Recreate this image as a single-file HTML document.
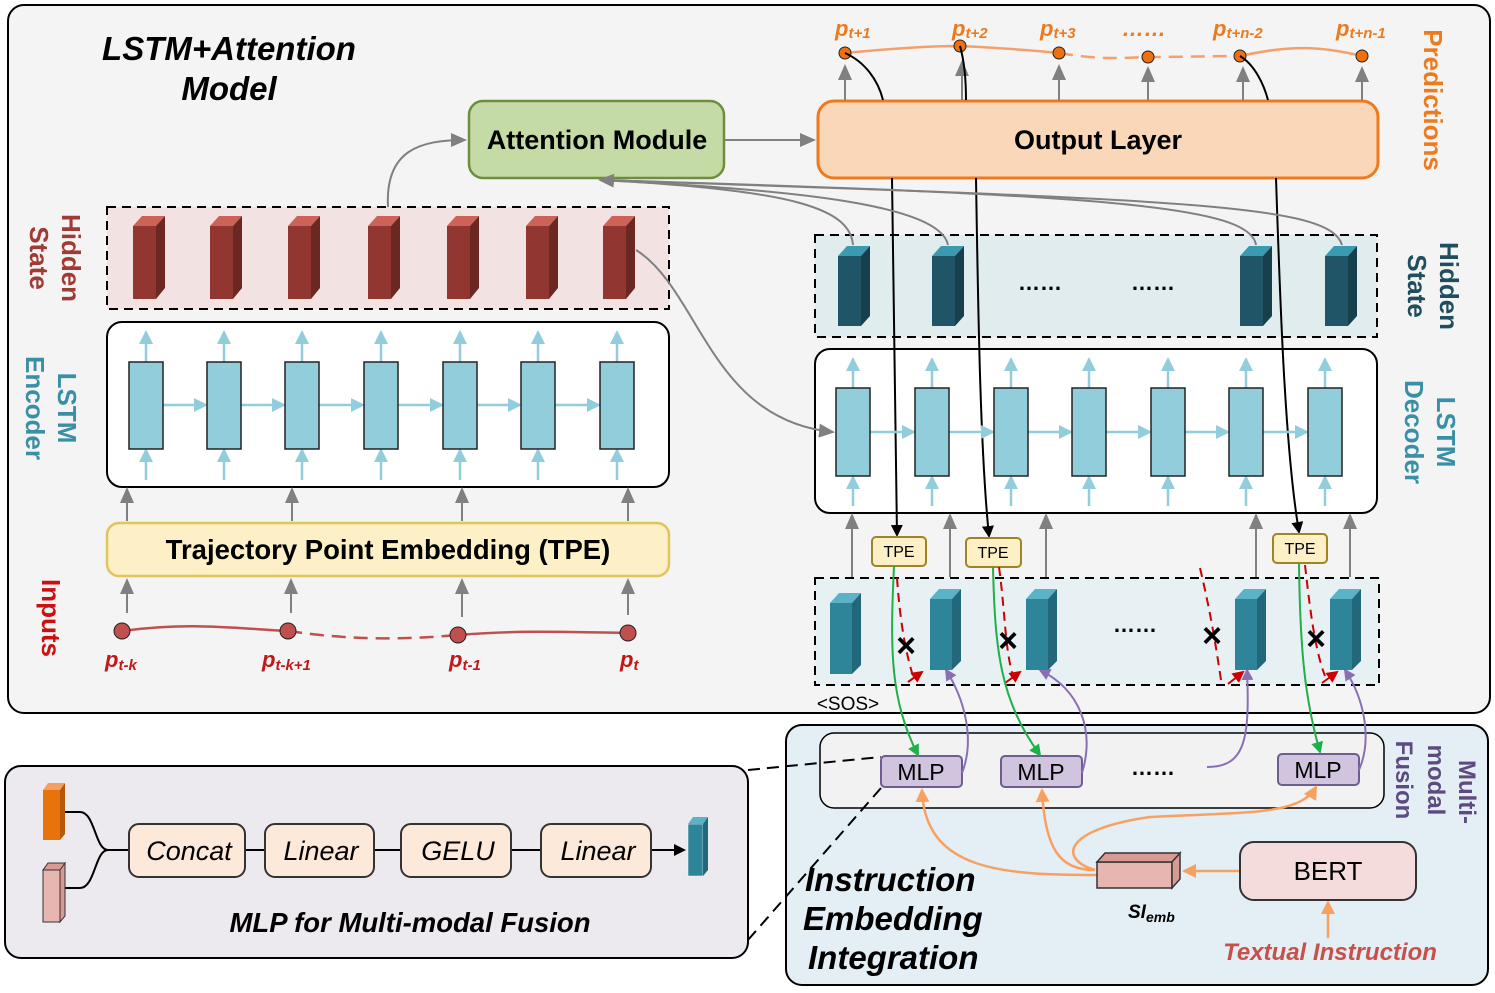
<!DOCTYPE html>
<html><head><meta charset="utf-8"><style>
html,body{margin:0;padding:0;background:#fff}
svg{display:block}
text{font-family:"Liberation Sans",Arial,sans-serif}
</style></head><body>
<svg width="1495" height="993" viewBox="0 0 1495 993" xmlns="http://www.w3.org/2000/svg">
<defs>
<marker id="agL" markerWidth="16" markerHeight="14" refX="14" refY="7" orient="auto" markerUnits="userSpaceOnUse"><path d="M0,0 L16,7 L0,14 Z" fill="#808080"/></marker>
<marker id="ab" markerWidth="14" markerHeight="14" refX="12" refY="7" orient="auto" markerUnits="userSpaceOnUse"><path d="M0,0 L14,7 L0,14 Z" fill="#92cddb"/></marker>
<marker id="ak" markerWidth="12" markerHeight="12" refX="10" refY="6" orient="auto" markerUnits="userSpaceOnUse"><path d="M0,0 L12,6 L0,12 Z" fill="#000"/></marker>
<marker id="agr" markerWidth="12" markerHeight="12" refX="10" refY="6" orient="auto" markerUnits="userSpaceOnUse"><path d="M0,0 L12,6 L0,12 Z" fill="#1fb04a"/></marker>
<marker id="ap" markerWidth="12" markerHeight="12" refX="10" refY="6" orient="auto" markerUnits="userSpaceOnUse"><path d="M0,0 L12,6 L0,12 Z" fill="#8a6fb5"/></marker>
<marker id="ar" markerWidth="12" markerHeight="12" refX="10" refY="6" orient="auto" markerUnits="userSpaceOnUse"><path d="M0,0 L12,6 L0,12 Z" fill="#cc0000"/></marker>
<marker id="ao" markerWidth="14" markerHeight="14" refX="12" refY="7" orient="auto" markerUnits="userSpaceOnUse"><path d="M0,0 L14,7 L0,14 Z" fill="#f8a060"/></marker>
</defs>

<rect x="8" y="5" width="1482" height="708" rx="16" fill="#f4f4f4" stroke="#000" stroke-width="2"/>
<rect x="5" y="766" width="743" height="192" rx="16" fill="#ece9ef" stroke="#000" stroke-width="2"/>
<rect x="786" y="725" width="702" height="260" rx="16" fill="#e3eff4" stroke="#000" stroke-width="2"/>
<rect x="820" y="733" width="564" height="75" rx="14" fill="#f2f2f2" stroke="#000" stroke-width="1.5"/>

<text x="229" y="60" font-size="33" font-weight="bold" font-style="italic" text-anchor="middle">LSTM+Attention</text>
<text x="229" y="100" font-size="33" font-weight="bold" font-style="italic" text-anchor="middle">Model</text>

<rect x="469" y="101" width="255" height="77" rx="14" fill="#c5dba6" stroke="#6b8f3e" stroke-width="2.5"/>
<text x="597" y="149" font-size="27" font-weight="bold" text-anchor="middle">Attention Module</text>
<rect x="818" y="101" width="560" height="77" rx="16" fill="#fbd7b9" stroke="#ee7a1e" stroke-width="3"/>
<text x="1098" y="149" font-size="27" font-weight="bold" text-anchor="middle">Output Layer</text>
<line x1="725" y1="140" x2="814" y2="140" stroke="#808080" stroke-width="2" marker-end="url(#agL)"/>

<rect x="107" y="207" width="562" height="102" fill="#f3e2e2" stroke="#000" stroke-width="2" stroke-dasharray="9,6"/>
<rect x="107" y="322" width="562" height="165" rx="15" fill="#fff" stroke="#000" stroke-width="2"/>
<rect x="107" y="523" width="562" height="53" rx="12" fill="#fdf0c6" stroke="#e2c45a" stroke-width="2.5"/>
<text x="388" y="559" font-size="27.5" font-weight="bold" text-anchor="middle">Trajectory Point Embedding (TPE)</text>

<rect x="815" y="235" width="562" height="102" fill="#e1ecef" stroke="#000" stroke-width="2" stroke-dasharray="9,6"/>
<text x="1040" y="290" font-size="22" font-weight="bold" text-anchor="middle">……</text>
<text x="1153" y="290" font-size="22" font-weight="bold" text-anchor="middle">……</text>
<rect x="815" y="349" width="562" height="164" rx="15" fill="#fff" stroke="#000" stroke-width="2"/>
<rect x="815" y="578" width="564" height="107" fill="#e7f0f3" stroke="#000" stroke-width="2" stroke-dasharray="9,6"/>
<text x="1135" y="632" font-size="22" font-weight="bold" text-anchor="middle">……</text>
<text x="848" y="710" font-size="19" text-anchor="middle">&lt;SOS&gt;</text>

<g font-weight="bold" font-size="26">
<text transform="translate(62,258) rotate(90)" text-anchor="middle" fill="#a03a35">Hidden</text>
<text transform="translate(30,258) rotate(90)" text-anchor="middle" fill="#a03a35">State</text>
<text transform="translate(58,408) rotate(90)" text-anchor="middle" fill="#3a8fa5">LSTM</text>
<text transform="translate(26,408) rotate(90)" text-anchor="middle" fill="#3a8fa5">Encoder</text>
<text transform="translate(42,618) rotate(90)" text-anchor="middle" fill="#cc1010">Inputs</text>
<text transform="translate(1440,286) rotate(90)" text-anchor="middle" fill="#1f4e5f">Hidden</text>
<text transform="translate(1408,286) rotate(90)" text-anchor="middle" fill="#1f4e5f">State</text>
<text transform="translate(1437,432) rotate(90)" text-anchor="middle" fill="#3a8fa5">LSTM</text>
<text transform="translate(1405,432) rotate(90)" text-anchor="middle" fill="#3a8fa5">Decoder</text>
<text transform="translate(1424,100) rotate(90)" text-anchor="middle" fill="#ee7a1e">Predictions</text>
<text transform="translate(1459,792) rotate(90)" text-anchor="middle" fill="#5e4a80" font-size="24">Multi-</text>
<text transform="translate(1428,780) rotate(90)" text-anchor="middle" fill="#5e4a80" font-size="24">modal</text>
<text transform="translate(1396,780) rotate(90)" text-anchor="middle" fill="#5e4a80" font-size="24">Fusion</text>
</g>

<path d="M122,631 C190,622 230,628 288,631" fill="none" stroke="#c0504d" stroke-width="2.5"/>
<path d="M288,631 C350,640 400,640 458,635" fill="none" stroke="#c0504d" stroke-width="2.5" stroke-dasharray="14,8"/>
<path d="M458,635 C520,630 570,632 628,633" fill="none" stroke="#c0504d" stroke-width="2.5"/>
<g fill="#c0504d" stroke="#222" stroke-width="1"><circle cx="122" cy="631" r="8"/><circle cx="288" cy="631" r="8"/><circle cx="458" cy="635" r="8"/><circle cx="628" cy="633" r="8"/></g>
<g fill="#c01818" font-weight="bold" font-style="italic" font-size="22">
<text x="105" y="667">p<tspan font-size="15" dy="3">t-k</tspan></text>
<text x="262" y="667">p<tspan font-size="15" dy="3">t-k+1</tspan></text>
<text x="449" y="667">p<tspan font-size="15" dy="3">t-1</tspan></text>
<text x="620" y="667">p<tspan font-size="15" dy="3">t</tspan></text>
</g>
<g stroke="#808080" stroke-width="2" marker-end="url(#agL)">
<line x1="127" y1="613" x2="127" y2="580"/><line x1="291" y1="613" x2="291" y2="580"/><line x1="462" y1="617" x2="462" y2="580"/><line x1="628" y1="615" x2="628" y2="580"/>
<line x1="127" y1="521" x2="127" y2="489"/><line x1="292" y1="521" x2="292" y2="489"/><line x1="462" y1="521" x2="462" y2="489"/><line x1="628" y1="521" x2="628" y2="489"/>
<line x1="852" y1="577" x2="852" y2="515"/><line x1="950" y1="577" x2="950" y2="515"/><line x1="1046" y1="577" x2="1046" y2="515"/><line x1="1256" y1="577" x2="1256" y2="515"/><line x1="1350" y1="577" x2="1350" y2="515"/>
<line x1="845" y1="100" x2="845" y2="66"/><line x1="962" y1="100" x2="962" y2="62"/><line x1="1059" y1="100" x2="1059" y2="66"/><line x1="1148" y1="100" x2="1148" y2="68"/><line x1="1243" y1="100" x2="1243" y2="68"/><line x1="1362" y1="100" x2="1362" y2="68"/>
</g>

<path d="M845,53 C900,48 930,46 960,46 C1000,48 1030,50 1059,53" fill="none" stroke="#f5a06a" stroke-width="2.5"/>
<path d="M1059,53 C1100,60 1120,58 1148,57 C1190,57 1210,56 1240,56" fill="none" stroke="#f5a06a" stroke-width="2.5" stroke-dasharray="14,8"/>
<path d="M1240,56 C1290,45 1320,46 1362,56" fill="none" stroke="#f5a06a" stroke-width="2.5"/>
<g fill="#ee7010" stroke="#222" stroke-width="1"><circle cx="845" cy="53" r="6"/><circle cx="960" cy="46" r="6"/><circle cx="1059" cy="53" r="6"/><circle cx="1148" cy="57" r="6"/><circle cx="1240" cy="56" r="6"/><circle cx="1362" cy="56" r="6"/></g>
<g fill="#ee7a1e" font-weight="bold" font-style="italic" font-size="22">
<text x="835" y="36">p<tspan font-size="15" dy="2">t+1</tspan></text>
<text x="952" y="36">p<tspan font-size="15" dy="2">t+2</tspan></text>
<text x="1040" y="36">p<tspan font-size="15" dy="2">t+3</tspan></text>
<text x="1122" y="36">……</text>
<text x="1213" y="36">p<tspan font-size="15" dy="2">t+n-2</tspan></text>
<text x="1336" y="36">p<tspan font-size="15" dy="2">t+n-1</tspan></text>
</g>
<g fill="none" stroke="#000" stroke-width="2">
<path d="M845,53 C865,62 878,80 883,100"/><path d="M960,46 C964,60 966,80 966,100"/><path d="M1240,56 C1255,65 1264,85 1268,100"/>
</g>
<g fill="none" stroke="#000" stroke-width="2" marker-end="url(#ak)">
<path d="M892,178 L897,535"/><path d="M976,178 C978,300 980,450 989,536"/><path d="M1276,178 C1280,300 1285,450 1299,532"/>
</g>

<g fill="none" stroke="#808080" stroke-width="2">
<path d="M388,207 C385,150 420,140 465,140" marker-end="url(#agL)"/>
<path d="M636,250 C700,290 710,420 833,432" marker-end="url(#agL)"/>
<path d="M853,245 C850,210 800,190 600,180" marker-end="url(#agL)"/>
<path d="M948,245 C940,205 800,190 600,180"/>
<path d="M1256,245 C1250,205 1100,195 600,180"/>
<path d="M1342,245 C1330,205 1200,200 600,180"/>
</g>

<g fill="#fdf0c6" stroke="#a08424" stroke-width="2">
<rect x="872" y="537" width="54" height="29" rx="4"/><rect x="966" y="538" width="55" height="29" rx="4"/><rect x="1273" y="534" width="54" height="29" rx="4"/>
</g>
<g font-size="16" text-anchor="middle"><text x="899" y="557">TPE</text><text x="993" y="558">TPE</text><text x="1300" y="554">TPE</text></g>

<g fill="none" stroke="#cc0000" stroke-width="2" stroke-dasharray="9,6">
<path d="M897,578 C900,620 905,650 913,676"/><path d="M999,567 C1005,610 1005,650 1013,676"/><path d="M1200,568 C1210,610 1215,640 1221,680"/><path d="M1305,565 C1310,610 1315,650 1325,676"/>
</g>
<g stroke="#cc0000" stroke-width="2" marker-end="url(#ar)">
<line x1="908" y1="682" x2="922" y2="672"/><line x1="1005" y1="683" x2="1020" y2="672"/><line x1="1228" y1="684" x2="1243" y2="672"/><line x1="1322" y1="683" x2="1337" y2="672"/>
</g>
<g font-size="34" font-weight="bold" text-anchor="middle"><text x="906" y="657">×</text><text x="1008" y="652">×</text><text x="1212" y="647">×</text><text x="1316" y="650">×</text></g>

<g fill="#d0c4de" stroke="#6e5e90" stroke-width="2">
<rect x="881" y="756" width="81" height="31" rx="4"/><rect x="1001" y="756" width="81" height="31" rx="4"/><rect x="1278" y="754" width="81" height="31" rx="4"/>
</g>
<g font-size="23" text-anchor="middle"><text x="921" y="780">MLP</text><text x="1041" y="780">MLP</text><text x="1318" y="778">MLP</text></g>
<text x="1153" y="775" font-size="22" font-weight="bold" text-anchor="middle">……</text>
<g fill="none" stroke="#1fb04a" stroke-width="2" marker-end="url(#agr)">
<path d="M894,566 C890,650 890,700 918,755"/><path d="M993,567 C995,650 1000,700 1040,755"/><path d="M1299,563 C1300,650 1305,700 1320,752"/>
</g>
<g fill="none" stroke="#8a6fb5" stroke-width="2" marker-end="url(#ap)">
<path d="M962,773 C975,740 965,700 946,670"/><path d="M1082,773 C1095,730 1080,690 1040,670"/><path d="M1207,767 C1245,767 1250,740 1247,670"/><path d="M1359,770 C1372,740 1365,700 1345,670"/>
</g>

<g fill="none" stroke="#f8a060" stroke-width="2.5" marker-end="url(#ao)">
<path d="M1097,875 C1000,875 925,870 922,790"/><path d="M1095,870 C1060,870 1045,850 1042,790"/><path d="M1095,870 C1060,860 1060,830 1150,817 C1250,812 1300,815 1316,787"/>
<line x1="1240" y1="871" x2="1184" y2="871"/><line x1="1328" y1="938" x2="1328" y2="902"/>
</g>
<rect x="1097" y="862" width="75" height="26" fill="#e8b6b0" stroke="#333" stroke-width="1.5"/>
<path d="M1097,862 L1105,853 L1180,853 L1172,862 Z M1172,862 L1180,853 L1180,879 L1172,888 Z" fill="#d99a94" stroke="#333" stroke-width="1.5"/>
<text x="1128" y="918" font-size="19" font-weight="bold" font-style="italic">SI<tspan font-size="14" dy="4">emb</tspan></text>
<rect x="1240" y="842" width="176" height="58" rx="14" fill="#f4dcdc" stroke="#333" stroke-width="2"/>
<text x="1328" y="880" font-size="26" text-anchor="middle">BERT</text>
<text x="1330" y="960" font-size="24" font-weight="bold" font-style="italic" fill="#c8504a" text-anchor="middle">Textual Instruction</text>
<g font-size="33" font-weight="bold" font-style="italic"><text x="805" y="891">Instruction</text><text x="803" y="930">Embedding</text><text x="808" y="969">Integration</text></g>

<g stroke="#000" stroke-width="2" stroke-dasharray="12,7" fill="none"><path d="M748,770 L881,757"/><path d="M748,940 L881,788"/></g>

<path d="M65,812 L80,812 C95,812 95,850 108,850 M65,888 L80,888 C95,888 95,850 108,850 L129,850" fill="none" stroke="#000" stroke-width="2"/>
<rect x="43" y="790" width="17" height="50" fill="#e8720c"/><path d="M43,790 L48,783 L65,783 L60,790 Z" fill="#f4a060"/><path d="M60,790 L65,783 L65,834 L60,840 Z" fill="#b55a0a"/>
<rect x="43" y="870" width="17" height="52" fill="#e8b6b0" stroke="#333" stroke-width="1"/><path d="M43,870 L48,863 L65,863 L60,870 Z M60,870 L65,863 L65,916 L60,922 Z" fill="#d99a94" stroke="#333" stroke-width="1"/>
<g stroke="#000" stroke-width="2"><line x1="245" y1="850" x2="265" y2="850"/><line x1="374" y1="850" x2="401" y2="850"/><line x1="511" y1="850" x2="541" y2="850"/><line x1="651" y1="850" x2="684" y2="850" marker-end="url(#ak)"/></g>
<g fill="#fde9d9" stroke="#333" stroke-width="2"><rect x="129" y="824" width="116" height="53" rx="10"/><rect x="265" y="824" width="109" height="53" rx="10"/><rect x="401" y="824" width="110" height="53" rx="10"/><rect x="541" y="824" width="110" height="53" rx="10"/></g>
<g font-size="27" font-style="italic" text-anchor="middle"><text x="189" y="860">Concat</text><text x="321" y="860">Linear</text><text x="458" y="860">GELU</text><text x="598" y="860">Linear</text></g>
<rect x="688" y="824" width="15" height="52" fill="#2e8499" stroke="#fff" stroke-width="0.5"/><path d="M688,824 L693,817 L708,817 L703,824 Z" fill="#5cb3c8"/><path d="M703,824 L708,817 L708,870 L703,876 Z" fill="#22687a"/>
<text x="410" y="932" font-size="27.5" font-weight="bold" font-style="italic" text-anchor="middle">MLP for Multi-modal Fusion</text>

<g>
<g transform="translate(133,226)"><rect width="23" height="73" fill="#913630"/><path d="M0,0 L9,-10 L32,-10 L23,0Z" fill="#cc6258"/><path d="M23,0 L32,-10 L32,62 L23,73Z" fill="#6b2722"/></g>
<g transform="translate(210,226)"><rect width="23" height="73" fill="#913630"/><path d="M0,0 L9,-10 L32,-10 L23,0Z" fill="#cc6258"/><path d="M23,0 L32,-10 L32,62 L23,73Z" fill="#6b2722"/></g>
<g transform="translate(288,226)"><rect width="23" height="73" fill="#913630"/><path d="M0,0 L9,-10 L32,-10 L23,0Z" fill="#cc6258"/><path d="M23,0 L32,-10 L32,62 L23,73Z" fill="#6b2722"/></g>
<g transform="translate(368,226)"><rect width="23" height="73" fill="#913630"/><path d="M0,0 L9,-10 L32,-10 L23,0Z" fill="#cc6258"/><path d="M23,0 L32,-10 L32,62 L23,73Z" fill="#6b2722"/></g>
<g transform="translate(447,226)"><rect width="23" height="73" fill="#913630"/><path d="M0,0 L9,-10 L32,-10 L23,0Z" fill="#cc6258"/><path d="M23,0 L32,-10 L32,62 L23,73Z" fill="#6b2722"/></g>
<g transform="translate(526,226)"><rect width="23" height="73" fill="#913630"/><path d="M0,0 L9,-10 L32,-10 L23,0Z" fill="#cc6258"/><path d="M23,0 L32,-10 L32,62 L23,73Z" fill="#6b2722"/></g>
<g transform="translate(603,226)"><rect width="23" height="73" fill="#913630"/><path d="M0,0 L9,-10 L32,-10 L23,0Z" fill="#cc6258"/><path d="M23,0 L32,-10 L32,62 L23,73Z" fill="#6b2722"/></g>
</g>
<g>
<g transform="translate(838,256)"><rect width="23" height="70" fill="#1f5566"/><path d="M0,0 L9,-10 L32,-10 L23,0Z" fill="#3a9ab0"/><path d="M23,0 L32,-10 L32,60 L23,70Z" fill="#173f4c"/></g>
<g transform="translate(932,256)"><rect width="23" height="70" fill="#1f5566"/><path d="M0,0 L9,-10 L32,-10 L23,0Z" fill="#3a9ab0"/><path d="M23,0 L32,-10 L32,60 L23,70Z" fill="#173f4c"/></g>
<g transform="translate(1240,256)"><rect width="23" height="70" fill="#1f5566"/><path d="M0,0 L9,-10 L32,-10 L23,0Z" fill="#3a9ab0"/><path d="M23,0 L32,-10 L32,60 L23,70Z" fill="#173f4c"/></g>
<g transform="translate(1325,256)"><rect width="23" height="70" fill="#1f5566"/><path d="M0,0 L9,-10 L32,-10 L23,0Z" fill="#3a9ab0"/><path d="M23,0 L32,-10 L32,60 L23,70Z" fill="#173f4c"/></g>
<g transform="translate(830,603)"><rect width="22" height="71" fill="#2e8499"/><path d="M0,0 L9,-10 L31,-10 L22,0Z" fill="#5cb3c8"/><path d="M22,0 L31,-10 L31,62 L22,71Z" fill="#22687a"/></g>
<g transform="translate(930,599)"><rect width="22" height="71" fill="#2e8499"/><path d="M0,0 L9,-10 L31,-10 L22,0Z" fill="#5cb3c8"/><path d="M22,0 L31,-10 L31,62 L22,71Z" fill="#22687a"/></g>
<g transform="translate(1026,599)"><rect width="22" height="71" fill="#2e8499"/><path d="M0,0 L9,-10 L31,-10 L22,0Z" fill="#5cb3c8"/><path d="M22,0 L31,-10 L31,62 L22,71Z" fill="#22687a"/></g>
<g transform="translate(1235,599)"><rect width="22" height="71" fill="#2e8499"/><path d="M0,0 L9,-10 L31,-10 L22,0Z" fill="#5cb3c8"/><path d="M22,0 L31,-10 L31,62 L22,71Z" fill="#22687a"/></g>
<g transform="translate(1330,599)"><rect width="22" height="71" fill="#2e8499"/><path d="M0,0 L9,-10 L31,-10 L22,0Z" fill="#5cb3c8"/><path d="M22,0 L31,-10 L31,62 L22,71Z" fill="#22687a"/></g>
</g>

<g stroke="#92cddb" stroke-width="2.5" marker-end="url(#ab)">
<line x1="146" y1="480" x2="146" y2="450"/><line x1="146" y1="362" x2="146" y2="332"/>
<line x1="224" y1="480" x2="224" y2="450"/><line x1="224" y1="362" x2="224" y2="332"/>
<line x1="302" y1="480" x2="302" y2="450"/><line x1="302" y1="362" x2="302" y2="332"/>
<line x1="381" y1="480" x2="381" y2="450"/><line x1="381" y1="362" x2="381" y2="332"/>
<line x1="460" y1="480" x2="460" y2="450"/><line x1="460" y1="362" x2="460" y2="332"/>
<line x1="538" y1="480" x2="538" y2="450"/><line x1="538" y1="362" x2="538" y2="332"/>
<line x1="617" y1="480" x2="617" y2="450"/><line x1="617" y1="362" x2="617" y2="332"/>
<line x1="163" y1="405" x2="206" y2="405"/><line x1="241" y1="405" x2="284" y2="405"/><line x1="319" y1="405" x2="363" y2="405"/><line x1="398" y1="405" x2="442" y2="405"/><line x1="477" y1="405" x2="520" y2="405"/><line x1="555" y1="405" x2="599" y2="405"/>
<line x1="853" y1="506" x2="853" y2="477"/><line x1="853" y1="388" x2="853" y2="359"/>
<line x1="932" y1="506" x2="932" y2="477"/><line x1="932" y1="388" x2="932" y2="359"/>
<line x1="1011" y1="506" x2="1011" y2="477"/><line x1="1011" y1="388" x2="1011" y2="359"/>
<line x1="1089" y1="506" x2="1089" y2="477"/><line x1="1089" y1="388" x2="1089" y2="359"/>
<line x1="1168" y1="506" x2="1168" y2="477"/><line x1="1168" y1="388" x2="1168" y2="359"/>
<line x1="1246" y1="506" x2="1246" y2="477"/><line x1="1246" y1="388" x2="1246" y2="359"/>
<line x1="1325" y1="506" x2="1325" y2="477"/><line x1="1325" y1="388" x2="1325" y2="359"/>
<line x1="870" y1="432" x2="914" y2="432"/><line x1="949" y1="432" x2="993" y2="432"/><line x1="1028" y1="432" x2="1071" y2="432"/><line x1="1106" y1="432" x2="1150" y2="432"/><line x1="1185" y1="432" x2="1228" y2="432"/><line x1="1263" y1="432" x2="1307" y2="432"/>
</g>
<g fill="#92cddb" stroke="#222" stroke-width="1.5">
<rect x="129" y="362" width="34" height="87"/><rect x="207" y="362" width="34" height="87"/><rect x="285" y="362" width="34" height="87"/><rect x="364" y="362" width="34" height="87"/><rect x="443" y="362" width="34" height="87"/><rect x="521" y="362" width="34" height="87"/><rect x="600" y="362" width="34" height="87"/>
<rect x="836" y="388" width="34" height="88"/><rect x="915" y="388" width="34" height="88"/><rect x="994" y="388" width="34" height="88"/><rect x="1072" y="388" width="34" height="88"/><rect x="1151" y="388" width="34" height="88"/><rect x="1229" y="388" width="34" height="88"/><rect x="1308" y="388" width="34" height="88"/>
</g>
</svg>
</body></html>
